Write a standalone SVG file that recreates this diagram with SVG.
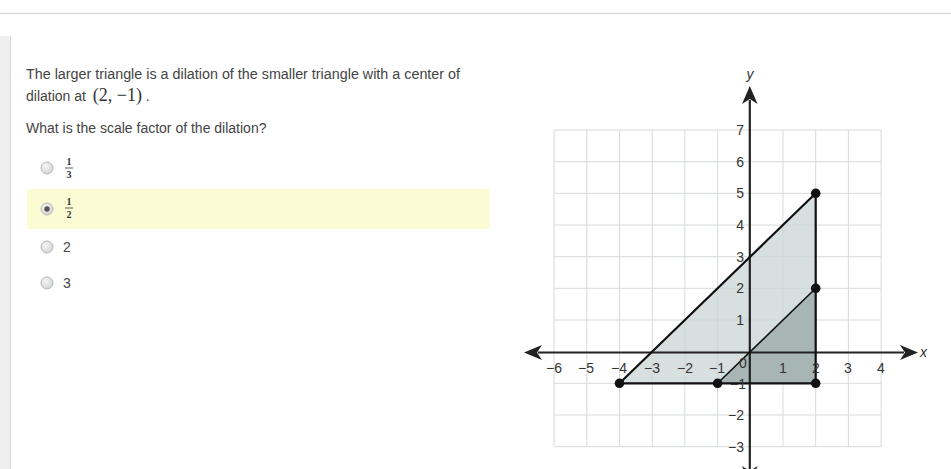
<svg xmlns="http://www.w3.org/2000/svg" width="951" height="469" viewBox="0 0 951 469">
<style>
.q{font-family:"Liberation Sans",Arial,sans-serif;font-size:14px;fill:#444}
.m{font-family:"Liberation Serif","Times New Roman",serif;fill:#333}
.fr{font-family:"Liberation Serif","Times New Roman",serif;font-size:10px;font-weight:bold;fill:#333;text-anchor:middle}
.lab{font-family:"Liberation Sans",Arial,sans-serif;font-size:14px;fill:#333}
.grid line{stroke:#d6dbde;stroke-width:1}
.radio{stroke:#b8b8b8;stroke-width:1}
.dot{fill:#111}
</style>
<defs>
<radialGradient id="rg" cx="0.4" cy="0.35" r="0.7"><stop offset="0" stop-color="#f6f6f6"/><stop offset="1" stop-color="#d2d2d2"/></radialGradient>
</defs>
<rect width="951" height="469" fill="#fff"/>
<line x1="0" y1="13.5" x2="951" y2="13.5" stroke="#dcdcdc" stroke-width="1.5"/>
<rect x="0" y="36" width="10" height="433" fill="#efefef"/>
<line x1="10.5" y1="36" x2="10.5" y2="469" stroke="#d8d8d8"/>

<g id="question">
<text class="q" x="26" y="79" textLength="434" lengthAdjust="spacingAndGlyphs">The larger triangle is a dilation of the smaller triangle with a center of</text>
<text class="q" x="26" y="101">dilation at <tspan class="m" font-size="18" dx="3">(2, −1)</tspan> .</text>
<text class="q" x="26" y="133">What is the scale factor of the dilation?</text>
</g>

<g id="options">
<rect x="27" y="189" width="463" height="40" fill="#fbfbd4"/>
<g id="opt1"><circle class="radio" cx="47" cy="168" r="6" fill="url(#rg)"/><text class="fr" x="69" y="165">1</text><line x1="65" y1="168" x2="73" y2="168" stroke="#333" stroke-width="0.8"/><text class="fr" x="69" y="178">3</text></g>
<g id="opt2"><circle class="radio" cx="47" cy="209" r="6" fill="url(#rg)"/><circle cx="47" cy="209" r="2.7" fill="#555"/><text class="fr" x="69" y="205">1</text><line x1="65" y1="208" x2="73" y2="208" stroke="#333" stroke-width="0.8"/><text class="fr" x="69" y="218">2</text></g>
<g id="opt3"><circle class="radio" cx="47" cy="247" r="6" fill="url(#rg)"/><text class="q" x="63" y="252">2</text></g>
<g id="opt4"><circle class="radio" cx="47" cy="283" r="6" fill="url(#rg)"/><text class="q" x="63" y="288">3</text></g>
</g>

<g id="grid" class="grid">
<line x1="554.1" y1="130" x2="554.1" y2="446.7"/>
<line x1="586.8" y1="130" x2="586.8" y2="446.7"/>
<line x1="619.5" y1="130" x2="619.5" y2="446.7"/>
<line x1="652.2" y1="130" x2="652.2" y2="446.7"/>
<line x1="684.9" y1="130" x2="684.9" y2="446.7"/>
<line x1="717.6" y1="130" x2="717.6" y2="446.7"/>
<line x1="783" y1="130" x2="783" y2="446.7"/>
<line x1="815.7" y1="130" x2="815.7" y2="446.7"/>
<line x1="848.4" y1="130" x2="848.4" y2="446.7"/>
<line x1="881.1" y1="130" x2="881.1" y2="446.7"/>
<line x1="554.1" y1="130" x2="881.1" y2="130"/>
<line x1="554.1" y1="161.7" x2="881.1" y2="161.7"/>
<line x1="554.1" y1="193.3" x2="881.1" y2="193.3"/>
<line x1="554.1" y1="225" x2="881.1" y2="225"/>
<line x1="554.1" y1="256.7" x2="881.1" y2="256.7"/>
<line x1="554.1" y1="288.3" x2="881.1" y2="288.3"/>
<line x1="554.1" y1="320" x2="881.1" y2="320"/>
<line x1="554.1" y1="383.3" x2="881.1" y2="383.3"/>
<line x1="554.1" y1="415" x2="881.1" y2="415"/>
<line x1="554.1" y1="446.7" x2="881.1" y2="446.7"/>
</g>

<g id="large-triangle">
<polygon points="619.5,383.3 815.7,193.3 815.7,383.3" fill="#c9d5d4" fill-opacity="0.75" stroke="none"/>
</g>
<g id="small-triangle">
<polygon points="717.6,383.3 815.7,288.3 815.7,383.3" fill="#97a7a6" fill-opacity="0.75" stroke="none"/>
</g>

<g id="axes" stroke="#222" stroke-width="2.2" fill="#222">
<line x1="538" y1="352.5" x2="904" y2="352.5"/>
<line x1="749.8" y1="100" x2="749.8" y2="469"/>
<path d="M524,352.5 L542,345 L537,352.5 L542,360 Z" stroke="none"/>
<path d="M918,352.5 L900,345 L905,352.5 L900,360 Z" stroke="none"/>
<path d="M749.8,86 L742,104 L749.8,99 L757.6,104 Z" stroke="none"/>
<path d="M749.8,484 L742,466 L749.8,471 L757.6,466 Z" stroke="none"/>
</g>

<g id="triangle-edges" fill="none" stroke="#111" stroke-linejoin="round">
<polygon points="619.5,383.3 815.7,193.3 815.7,383.3" stroke-width="2.2"/>
<line x1="717.6" y1="383.3" x2="815.7" y2="288.3" stroke-width="1.6"/>
</g>

<g id="points">
<circle class="dot" cx="619.5" cy="383.3" r="4.8"/>
<circle class="dot" cx="717.6" cy="383.3" r="4.8"/>
<circle class="dot" cx="815.7" cy="383.3" r="4.8"/>
<circle class="dot" cx="815.7" cy="288.3" r="4.8"/>
<circle class="dot" cx="815.7" cy="193.3" r="4.8"/>
</g>

<g id="labels" class="lab">
<text x="750" y="79" text-anchor="middle" font-style="italic">y</text>
<text x="920" y="357" font-style="italic">x</text>
<g text-anchor="end">
<text x="744" y="135">7</text>
<text x="744" y="167">6</text>
<text x="744" y="198">5</text>
<text x="744" y="230">4</text>
<text x="744" y="262">3</text>
<text x="744" y="293">2</text>
<text x="744" y="325">1</text>
<text x="746" y="389">−1</text>
<text x="744" y="420">−2</text>
<text x="744" y="452">−3</text>
</g>
<g text-anchor="middle">
<text x="554" y="373">−6</text>
<text x="586" y="373">−5</text>
<text x="619" y="373">−4</text>
<text x="652" y="373">−3</text>
<text x="685" y="373">−2</text>
<text x="717" y="373">−1</text>
<text x="743" y="368">0</text>
<text x="783" y="373">1</text>
<text x="816" y="373">2</text>
<text x="848" y="373">3</text>
<text x="881" y="373">4</text>
</g>
</g>
</svg>
